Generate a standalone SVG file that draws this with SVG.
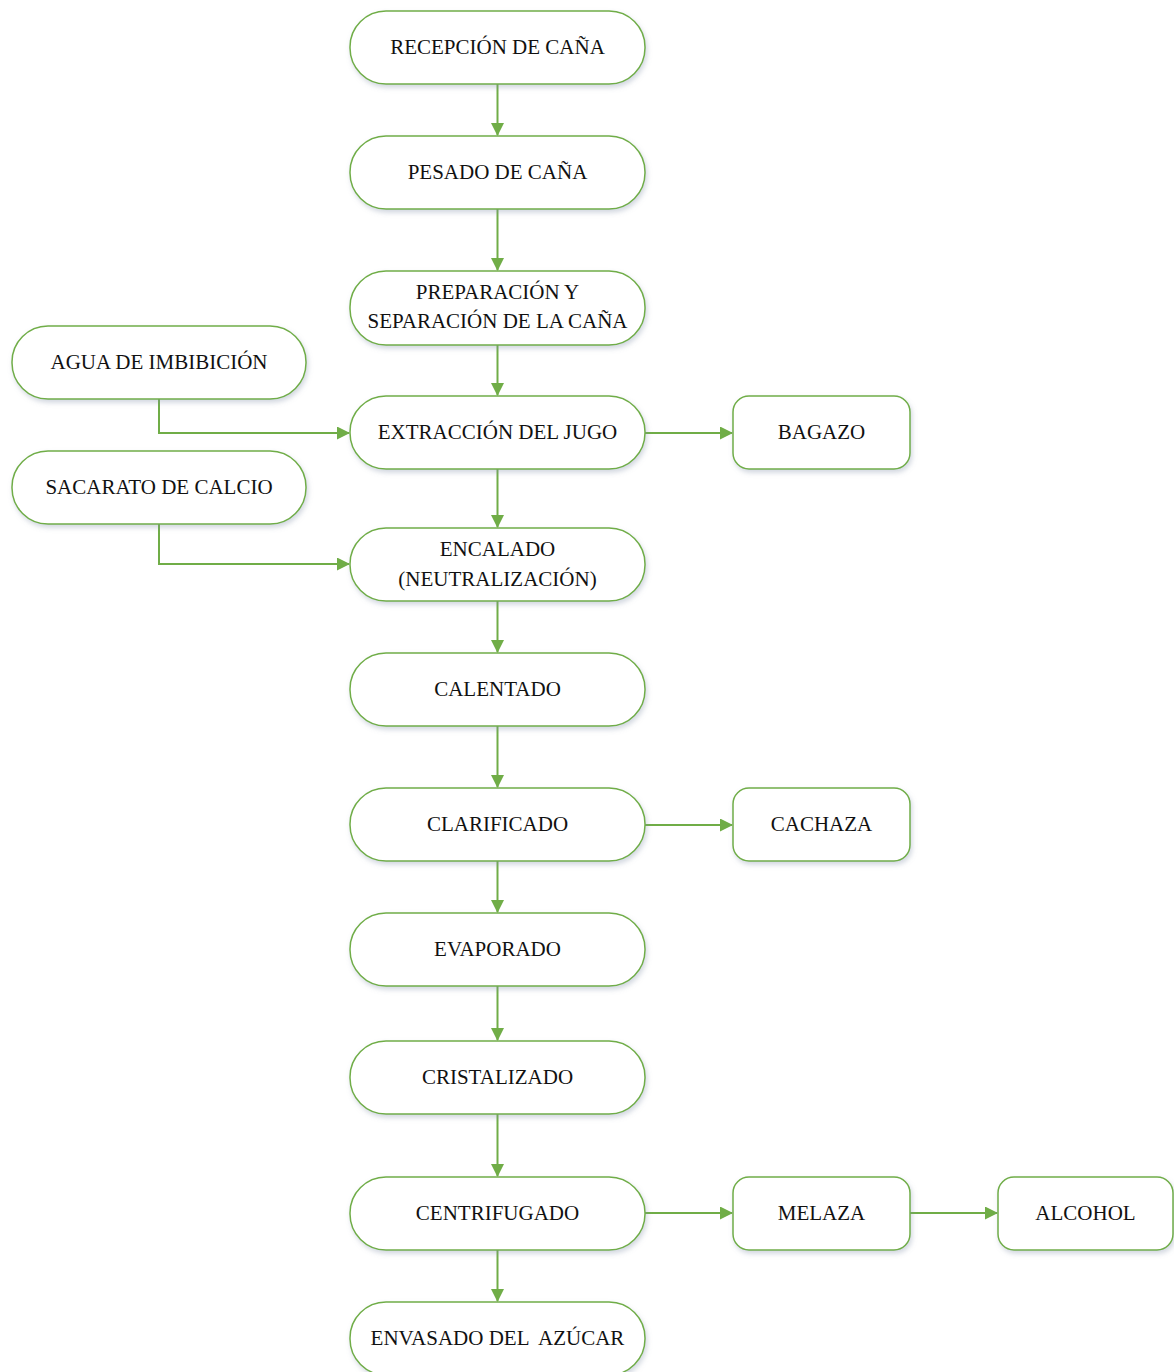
<svg xmlns="http://www.w3.org/2000/svg" width="1174" height="1372" viewBox="0 0 1174 1372">
  <style>
    .box { fill: #ffffff; stroke: #70ad47; stroke-width: 1.5; filter: url(#shadow); }
    .lbl { font-family: "Liberation Serif", "Times New Roman", serif; font-size: 21px; fill: #111111; text-anchor: middle; }
    .link { fill: none; stroke: #70ad47; stroke-width: 2; marker-end: url(#arrow); }
  </style>
  <defs>
    <filter id="shadow" x="-10%" y="-20%" width="125%" height="150%">
      <feDropShadow dx="1.5" dy="3" stdDeviation="2.5" flood-color="#7f8fa6" flood-opacity="0.35"/>
    </filter>
    <marker id="arrow" markerWidth="13" markerHeight="13" refX="12" refY="6.5" orient="auto" markerUnits="userSpaceOnUse">
      <path d="M0,0 L13,6.5 L0,13 Z" fill="#70ad47"/>
    </marker>
  </defs>
  <rect width="1174" height="1372" fill="#ffffff"/>

  <!-- connectors -->
  <g id="connectors">
    <path class="link" d="M497.5,84 V135"/>
    <path class="link" d="M497.5,209 V270"/>
    <path class="link" d="M497.5,345 V395"/>
    <path class="link" d="M497.5,469 V527"/>
    <path class="link" d="M497.5,601 V652"/>
    <path class="link" d="M497.5,726 V787"/>
    <path class="link" d="M497.5,861 V912"/>
    <path class="link" d="M497.5,986 V1040"/>
    <path class="link" d="M497.5,1114 V1176"/>
    <path class="link" d="M497.5,1250 V1301"/>
    <path class="link" d="M159,399 V433 H349"/>
    <path class="link" d="M159,524 V564 H349"/>
    <path class="link" d="M645,433 H732"/>
    <path class="link" d="M645,825 H732"/>
    <path class="link" d="M645,1213 H732"/>
    <path class="link" d="M910,1213 H997"/>
  </g>

  <!-- main process column -->
  <g id="recepcion">
    <rect class="box" x="350" y="11" width="295" height="73" rx="36"/>
    <text class="lbl" x="497.5" y="54">RECEPCIÓN DE CAÑA</text>
  </g>
  <g id="pesado">
    <rect class="box" x="350" y="136" width="295" height="73" rx="36"/>
    <text class="lbl" x="497.5" y="179">PESADO DE CAÑA</text>
  </g>
  <g id="preparacion">
    <rect class="box" x="350" y="271" width="295" height="74" rx="36"/>
    <text class="lbl" x="497.5" y="299">PREPARACIÓN Y</text>
    <text class="lbl" x="497.5" y="328">SEPARACIÓN DE LA CAÑA</text>
  </g>
  <g id="extraccion">
    <rect class="box" x="350" y="396" width="295" height="73" rx="36"/>
    <text class="lbl" x="497.5" y="439">EXTRACCIÓN DEL JUGO</text>
  </g>
  <g id="encalado">
    <rect class="box" x="350" y="528" width="295" height="73" rx="36"/>
    <text class="lbl" x="497.5" y="556">ENCALADO</text>
    <text class="lbl" x="497.5" y="586">(NEUTRALIZACIÓN)</text>
  </g>
  <g id="calentado">
    <rect class="box" x="350" y="653" width="295" height="73" rx="36"/>
    <text class="lbl" x="497.5" y="696">CALENTADO</text>
  </g>
  <g id="clarificado">
    <rect class="box" x="350" y="788" width="295" height="73" rx="36"/>
    <text class="lbl" x="497.5" y="831">CLARIFICADO</text>
  </g>
  <g id="evaporado">
    <rect class="box" x="350" y="913" width="295" height="73" rx="36"/>
    <text class="lbl" x="497.5" y="956">EVAPORADO</text>
  </g>
  <g id="cristalizado">
    <rect class="box" x="350" y="1041" width="295" height="73" rx="36"/>
    <text class="lbl" x="497.5" y="1084">CRISTALIZADO</text>
  </g>
  <g id="centrifugado">
    <rect class="box" x="350" y="1177" width="295" height="73" rx="36"/>
    <text class="lbl" x="497.5" y="1220">CENTRIFUGADO</text>
  </g>
  <g id="envasado">
    <rect class="box" x="350" y="1302" width="295" height="73" rx="36"/>
    <text class="lbl" x="497.5" y="1345" xml:space="preserve">ENVASADO DEL  AZÚCAR</text>
  </g>

  <!-- inputs -->
  <g id="agua">
    <rect class="box" x="12" y="326" width="294" height="73" rx="36"/>
    <text class="lbl" x="159" y="369">AGUA DE IMBIBICIÓN</text>
  </g>
  <g id="sacarato">
    <rect class="box" x="12" y="451" width="294" height="73" rx="36"/>
    <text class="lbl" x="159" y="494">SACARATO DE CALCIO</text>
  </g>

  <!-- by-products -->
  <g id="bagazo">
    <rect class="box" x="733" y="396" width="177" height="73" rx="16"/>
    <text class="lbl" x="821.5" y="439">BAGAZO</text>
  </g>
  <g id="cachaza">
    <rect class="box" x="733" y="788" width="177" height="73" rx="16"/>
    <text class="lbl" x="821.5" y="831">CACHAZA</text>
  </g>
  <g id="melaza">
    <rect class="box" x="733" y="1177" width="177" height="73" rx="16"/>
    <text class="lbl" x="821.5" y="1220">MELAZA</text>
  </g>
  <g id="alcohol">
    <rect class="box" x="998" y="1177" width="175" height="73" rx="16"/>
    <text class="lbl" x="1085.5" y="1220">ALCOHOL</text>
  </g>
</svg>
